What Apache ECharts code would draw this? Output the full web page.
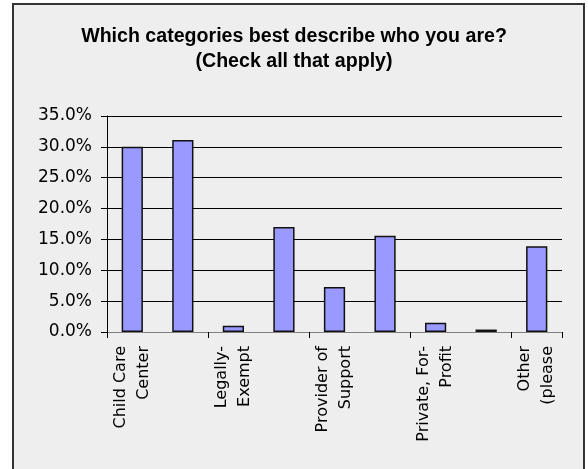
<!DOCTYPE html>
<html>
<head>
<meta charset="utf-8">
<script src="https://cdn.jsdelivr.net/npm/echarts@6/dist/echarts.min.js"></script>
<style>
  html,body{margin:0;padding:0;background:#fff;}
  #frame{position:absolute;left:12px;top:3px;width:569px;height:470px;border:2px solid #333;background:#eeeeee;}
  #chart{position:absolute;left:0;top:0;width:588px;height:469px;}
</style>
</head>
<body>
<div id="frame"></div>
<div id="chart"></div>
<script>
(function(){
  const TITLE = 'Which categories best describe who you are?\n(Check all that apply)';
  // 9 categories, only every other label fits (as in the source chart)
  const categories = ['Child Care\nCenter','Family Child\nCare','Legally-\nExempt','Head\nStart','Provider of\nSupport','Public\nSchool','Private, For-\nProfit','Private,\nNon-Profit','Other\n(please'];
  const shares = [30.0, 31.1, 1.0, 17.0, 7.3, 15.6, 1.5, 0.4, 13.9];
  const yTicks = {min:0, max:35, interval:5};

  const chart = echarts.init(document.getElementById('chart'), null, {renderer:'canvas'});
  chart.setOption({
    backgroundColor:'transparent',
    animation:false,
    title:{
      text:TITLE, left:'center', top:19, padding:[5,5,5,15],
      textStyle:{fontFamily:'Liberation Sans', fontWeight:'bold', fontSize:19.6, lineHeight:25, color:'#000'}
    },
    grid:{left:107, right:26, top:116, bottom:137},
    xAxis:{
      type:'category', data:categories, boundaryGap:true,
      axisLine:{lineStyle:{color:'#808080', width:1}},
      axisTick:{show:true, inside:false, length:6, lineStyle:{color:'#000'}},
      axisLabel:{interval:1, rotate:90, margin:14, color:'#000', fontFamily:'DejaVu Sans', fontSize:16, lineHeight:23, align:'right'}
    },
    yAxis:{
      type:'value', min:yTicks.min, max:yTicks.max, interval:yTicks.interval,
      axisLine:{show:true, lineStyle:{color:'#000'}},
      axisTick:{show:true, length:6, lineStyle:{color:'#000'}},
      axisLabel:{color:'#000', fontFamily:'DejaVu Sans', fontSize:17, margin:15, formatter:v=>v.toFixed(1)+'%'},
      splitLine:{show:true, lineStyle:{color:'#000', width:1}}
    },
    series:[{
      type:'bar', data:shares, barWidth:'42%',
      itemStyle:{color:'#9999ff', borderColor:'#111', borderWidth:1.5}
    }]
  });
})();
</script>
</body>
</html>
